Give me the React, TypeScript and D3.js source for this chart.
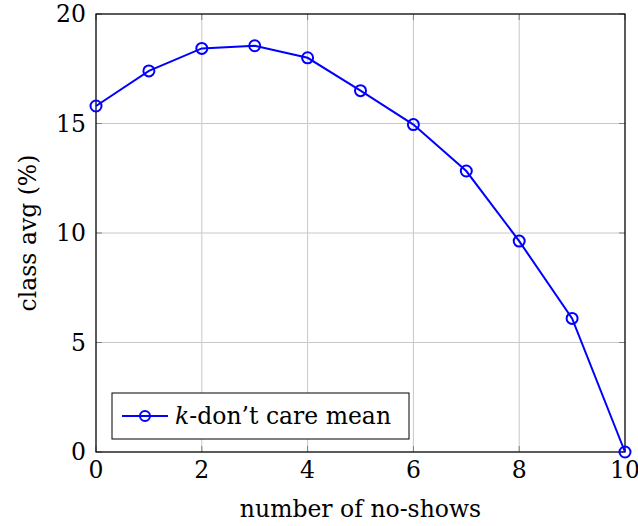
import * as React from "react";
import * as d3 from "d3";

const noShows = [0, 1, 2, 3, 4, 5, 6, 7, 8, 9, 10];
const classAvg = [15.8, 17.4, 18.43, 18.55, 18.0, 16.5, 14.95, 12.83, 9.63, 6.1, 0];
const xTicks = [0, 2, 4, 6, 8, 10];
const yTicks = [0, 5, 10, 15, 20];
const seriesName = "-don\u2019t care mean";

const W = 638;
const H = 526;
const margin = { top: 14, right: 13, bottom: 74, left: 96 };
const font = "'DejaVu Serif', serif";
const fs = 23.5;

export default function App() {
  const ref = React.useRef<SVGSVGElement>(null);

  React.useEffect(() => {
    const svg = d3.select(ref.current);
    svg.selectAll("*").remove();
    const iw = W - margin.left - margin.right;
    const ih = H - margin.top - margin.bottom;
    const g = svg.append("g").attr("transform", `translate(${margin.left},${margin.top})`);

    const x = d3.scaleLinear().domain([0, 10]).range([0, iw]);
    const y = d3.scaleLinear().domain([0, 20]).range([ih, 0]);

    // grid
    g.selectAll(".gx").data(xTicks).enter().append("line")
      .attr("x1", d => x(d)).attr("x2", d => x(d)).attr("y1", 0).attr("y2", ih)
      .attr("stroke", "#c8c8c8").attr("stroke-width", 1);
    g.selectAll(".gy").data(yTicks).enter().append("line")
      .attr("y1", d => y(d)).attr("y2", d => y(d)).attr("x1", 0).attr("x2", iw)
      .attr("stroke", "#c8c8c8").attr("stroke-width", 1);

    // inner ticks
    const tl = 6;
    xTicks.forEach(t => {
      g.append("line").attr("x1", x(t)).attr("x2", x(t)).attr("y1", ih).attr("y2", ih - tl).attr("stroke", "#808080");
      g.append("line").attr("x1", x(t)).attr("x2", x(t)).attr("y1", 0).attr("y2", tl).attr("stroke", "#808080");
    });
    yTicks.forEach(t => {
      g.append("line").attr("y1", y(t)).attr("y2", y(t)).attr("x1", 0).attr("x2", tl).attr("stroke", "#808080");
      g.append("line").attr("y1", y(t)).attr("y2", y(t)).attr("x1", iw).attr("x2", iw - tl).attr("stroke", "#808080");
    });

    // frame
    g.append("rect").attr("width", iw).attr("height", ih)
      .attr("fill", "none").attr("stroke", "#000").attr("stroke-width", 1.2);

    // tick labels
    g.selectAll(".xl").data(xTicks).enter().append("text")
      .attr("x", d => x(d)).attr("y", ih + 26)
      .attr("text-anchor", "middle").attr("font-family", font).attr("font-size", fs)
      .text(d => d);
    g.selectAll(".yl").data(yTicks).enter().append("text")
      .attr("x", -10).attr("y", d => y(d)).attr("dy", "0.35em")
      .attr("text-anchor", "end").attr("font-family", font).attr("font-size", fs)
      .text(d => d);

    // axis titles
    g.append("text").attr("x", iw / 2).attr("y", ih + 65)
      .attr("text-anchor", "middle").attr("font-family", font).attr("font-size", fs)
      .text("number of no-shows");
    g.append("text").attr("transform", `translate(${-60},${ih / 2}) rotate(-90)`)
      .attr("text-anchor", "middle").attr("font-family", font).attr("font-size", fs)
      .text("class avg (%)");

    // series
    const pts = noShows.map((d, i) => [d, classAvg[i]] as [number, number]);
    const line = d3.line<[number, number]>().x(d => x(d[0])).y(d => y(d[1]));
    g.append("path").datum(pts).attr("d", line)
      .attr("fill", "none").attr("stroke", "#0000ff").attr("stroke-width", 2);
    g.selectAll(".pt").data(pts).enter().append("circle")
      .attr("cx", d => x(d[0])).attr("cy", d => y(d[1])).attr("r", 5.5)
      .attr("fill", "none").attr("stroke", "#0000ff").attr("stroke-width", 2);

    // legend
    const lg = g.append("g").attr("transform", `translate(16,${ih - 59})`);
    lg.append("rect").attr("width", 297).attr("height", 46)
      .attr("fill", "#fff").attr("stroke", "#000").attr("stroke-width", 1);
    lg.append("line").attr("x1", 10).attr("x2", 56).attr("y1", 23).attr("y2", 23)
      .attr("stroke", "#0000ff").attr("stroke-width", 2);
    lg.append("circle").attr("cx", 33).attr("cy", 23).attr("r", 5)
      .attr("fill", "none").attr("stroke", "#0000ff").attr("stroke-width", 2);
    const t = lg.append("text").attr("x", 63).attr("y", 23).attr("dy", "0.35em")
      .attr("font-family", font).attr("font-size", fs);
    t.append("tspan").attr("font-style", "italic").text("k");
    t.append("tspan").text(seriesName);
  }, []);

  return <svg ref={ref} width={W} height={H} style={{ position: "absolute", left: 0, top: 0, background: "#fff" }} />;
}
